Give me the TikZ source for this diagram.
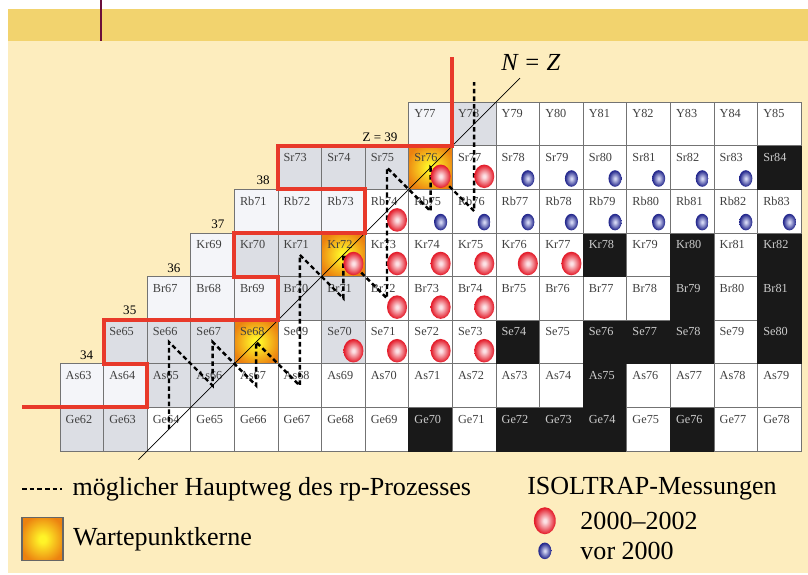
\documentclass[tikz,border=0pt]{standalone}
\usepackage{fontspec}
\setmainfont{Liberation Serif}
\usetikzlibrary{positioning,shapes.geometric,calc}

\definecolor{kopfgelb}{RGB}{242,211,110}
\definecolor{papier}{RGB}{253,237,190}
\definecolor{rahmenrot}{RGB}{107,15,58}
\definecolor{grauzelle}{RGB}{220,222,228}
\definecolor{hellzelle}{RGB}{244,245,249}
\definecolor{linienrot}{RGB}{232,57,42}
\definecolor{rotmitte}{RGB}{252,226,230}
\definecolor{rotrand}{RGB}{228,30,44}
\definecolor{blaumitte}{RGB}{215,218,245}
\definecolor{blaurand}{RGB}{34,38,140}
\definecolor{wpmitte}{RGB}{255,244,40}
\definecolor{wprand}{RGB}{236,130,16}

\pgfdeclareradialshading{kugelrot}{\pgfpoint{0bp}{0bp}}{%
  color(0bp)=(rotmitte); color(3bp)=(rotmitte); color(24bp)=(rotrand); color(50bp)=(rotrand)}
\pgfdeclareradialshading{kugelblau}{\pgfpoint{0bp}{0bp}}{%
  color(0bp)=(blaumitte); color(2bp)=(blaumitte); color(24bp)=(blaurand); color(50bp)=(blaurand)}
\pgfdeclareradialshading{wartepunkt}{\pgfpoint{0bp}{0bp}}{%
  color(0bp)=(wpmitte); color(4bp)=(wpmitte); color(28bp)=(wprand); color(50bp)=(wprand)}

\tikzset{
  cell/.style    ={rectangle, draw=black!55, line width=0.6pt, fill=white,
                   minimum width=1cm, minimum height=1cm, inner xsep=0.13cm,
                   inner ysep=0pt, outer sep=0pt, text width=0.74cm, align=left,
                   text height=0.36cm, text depth=0.64cm, anchor=south west,
                   font=\fontsize{8}{9}\selectfont, text=black!75},
  nw/.style      ={},
  nl/.style      ={fill=hellzelle},
  ng/.style      ={fill=grauzelle},
  ns/.style      ={fill=black!90, draw=black!90, text=white!80!black},
  nwp/.style     ={shade, shading=wartepunkt},
  redball/.style ={ellipse, minimum width=0.46cm, minimum height=0.54cm,
                   inner sep=0pt, shade, shading=kugelrot},
  blueball/.style={ellipse, minimum width=0.3cm, minimum height=0.38cm,
                   inner sep=0pt, shade, shading=kugelblau},
  rpweg/.style   ={line width=1.6pt, dash pattern=on 3pt off 2pt},
  drip/.style    ={line width=2.6pt, draw=linienrot},
  zlab/.style    ={font=\fontsize{8.5}{10}\selectfont, inner sep=0pt},
  leg/.style     ={font=\fontsize{17}{20}\selectfont, anchor=west, inner sep=0pt},
}

\begin{document}
\begin{tikzpicture}
  % background and header band
  \useasboundingbox[fill=white] (-1.376,-2.844) rectangle (17.156,10.344);
  \fill[papier] (-1.2,-2.8) rectangle (17.156,9.41);
  \fill[kopfgelb] (-1.2,9.41) rectangle (17.156,10.13);
  \draw[rahmenrot, line width=1.3pt] (0.95,9.41) -- (0.95,10.344);

  % chart of nuclides, one row per element (Ge at the bottom)
  \foreach \el/\row/\cmin/\off/\typen in {%
      Ge/0/0/62/{ng,ng,nw,nw,nw,nw,nw,nw,ns,nw,ns,ns,ns,nw,ns,nw,nw},%
      As/1/0/63/{nl,nl,ng,ng,nw,nw,nw,nw,nw,nw,nw,nw,ns,nw,nw,nw,nw},%
      Se/2/1/64/{ng,ng,ng,nwp,nw,ng,nw,nw,nw,ns,nw,ns,ns,ns,nw,ns},%
      Br/3/2/65/{nl,nl,nl,ng,ng,nw,nw,nw,nw,nw,nw,nw,ns,nw,ns},%
      Kr/4/3/66/{nl,ng,ng,nwp,nw,nw,nw,nw,nw,ns,nw,ns,nw,ns},%
      Rb/5/4/67/{nl,nl,nl,nw,nw,nw,nw,nw,nw,nw,nw,nw,nw},%
      Sr/6/5/68/{ng,ng,ng,nwp,nw,nw,nw,nw,nw,nw,nw,ns},%
      Y/7/8/69/{nl,ng,nw,nw,nw,nw,nw,nw,nw}}%
    \foreach \typ [count=\i] in \typen {%
      \pgfmathtruncatemacro\col{\cmin+\i-1}%
      \pgfmathtruncatemacro\A{\off+\col}%
      \node[cell, \typ] (\el\A) at (\col,\row) {\el\A};
    }

  % N = Z line
  \coordinate (nzunten) at (1.8,-0.2);
  \coordinate (nzoben) at (10.55,8.55);
  \draw[line width=0.5pt] (nzunten) -- (nzoben);
  \node[font=\fontsize{16}{19}\selectfont\itshape] (nzlab) at (10.8,8.9) {N = Z};

  % rp-process path
  \coordinate (rpende) at (9.5,8.46);
  \draw[rpweg] (Ge64.center) -- (Se66.center) -- (As66.center) -- (Se67.center)
    -- (As67.center) -- (Se68.center) -- (As68.center) -- (Kr71.center)
    -- (Br71.center) -- (Kr72.center) -- (Br72.center) -- (Sr75.center)
    -- (Rb75.center) -- (Sr76.center) -- (Rb76.center) -- (rpende);

  % ISOLTRAP measurements
  \foreach \n in {Sr76,Sr77,Rb74,Kr72,Kr73,Kr74,Kr75,Kr76,Kr77,Br72,Br73,Br74,Se70,Se71,Se72,Se73}
    \node[redball] (r\n) at ([shift={(-0.27,0.3)}]\n.south east) {};
  \foreach \n in {Sr78,Sr79,Sr80,Sr81,Sr82,Sr83,Rb75,Rb76,Rb77,Rb78,Rb79,Rb80,Rb81,Rb82,Rb83}
    \node[blueball] (b\n) at ([shift={(-0.27,0.25)}]\n.south east) {};

  % proton drip line
  \draw[drip] (-0.87,1) -- (2,1) -- (2,2) -- (1,2) -- (1,3) -- (5,3) -- (5,4)
    -- (4,4) -- (4,5) -- (7,5) -- (7,6) -- (5,6) -- (5,7) -- (9,7) -- (9,9.04);
  \foreach \z/\x/\y in {34/0.61/2.2,35/1.6/3.22,36/2.61/4.2,37/3.62/5.2,38/4.66/6.2}
    \node[zlab] (z\z) at (\x,\y) {\z};
  \node[zlab] (z39) at (7.34,7.2) {Z = 39};

  % legend
  \coordinate (lega) at (-0.87,-0.87);
  \coordinate (legb) at (0.05,-0.87);
  \draw[rpweg] (lega) -- (legb);
  \node[leg, right=0.23cm of legb] (legrp) {möglicher Hauptweg des rp-Prozesses};
  \node[draw=black!60, line width=0.8pt, minimum width=0.94cm, minimum height=1cm,
        shade, shading=wartepunkt] (legwp) at (-0.4,-2.02) {};
  \node[leg, right=0.21cm of legwp] (legwptext) {Wartepunktkerne};
  \node[leg] (legiso) at (10.71,-0.87) {ISOLTRAP-Messungen};
  \node[redball, minimum width=0.5cm, minimum height=0.62cm] (legrot) at (11.12,-1.6) {};
  \node[leg] (legneu) at (11.93,-1.6) {2000--2002};
  \node[blueball] (legblau) at (11.12,-2.29) {};
  \node[leg] (legalt) at (11.93,-2.29) {vor 2000};
\end{tikzpicture}
\end{document}
